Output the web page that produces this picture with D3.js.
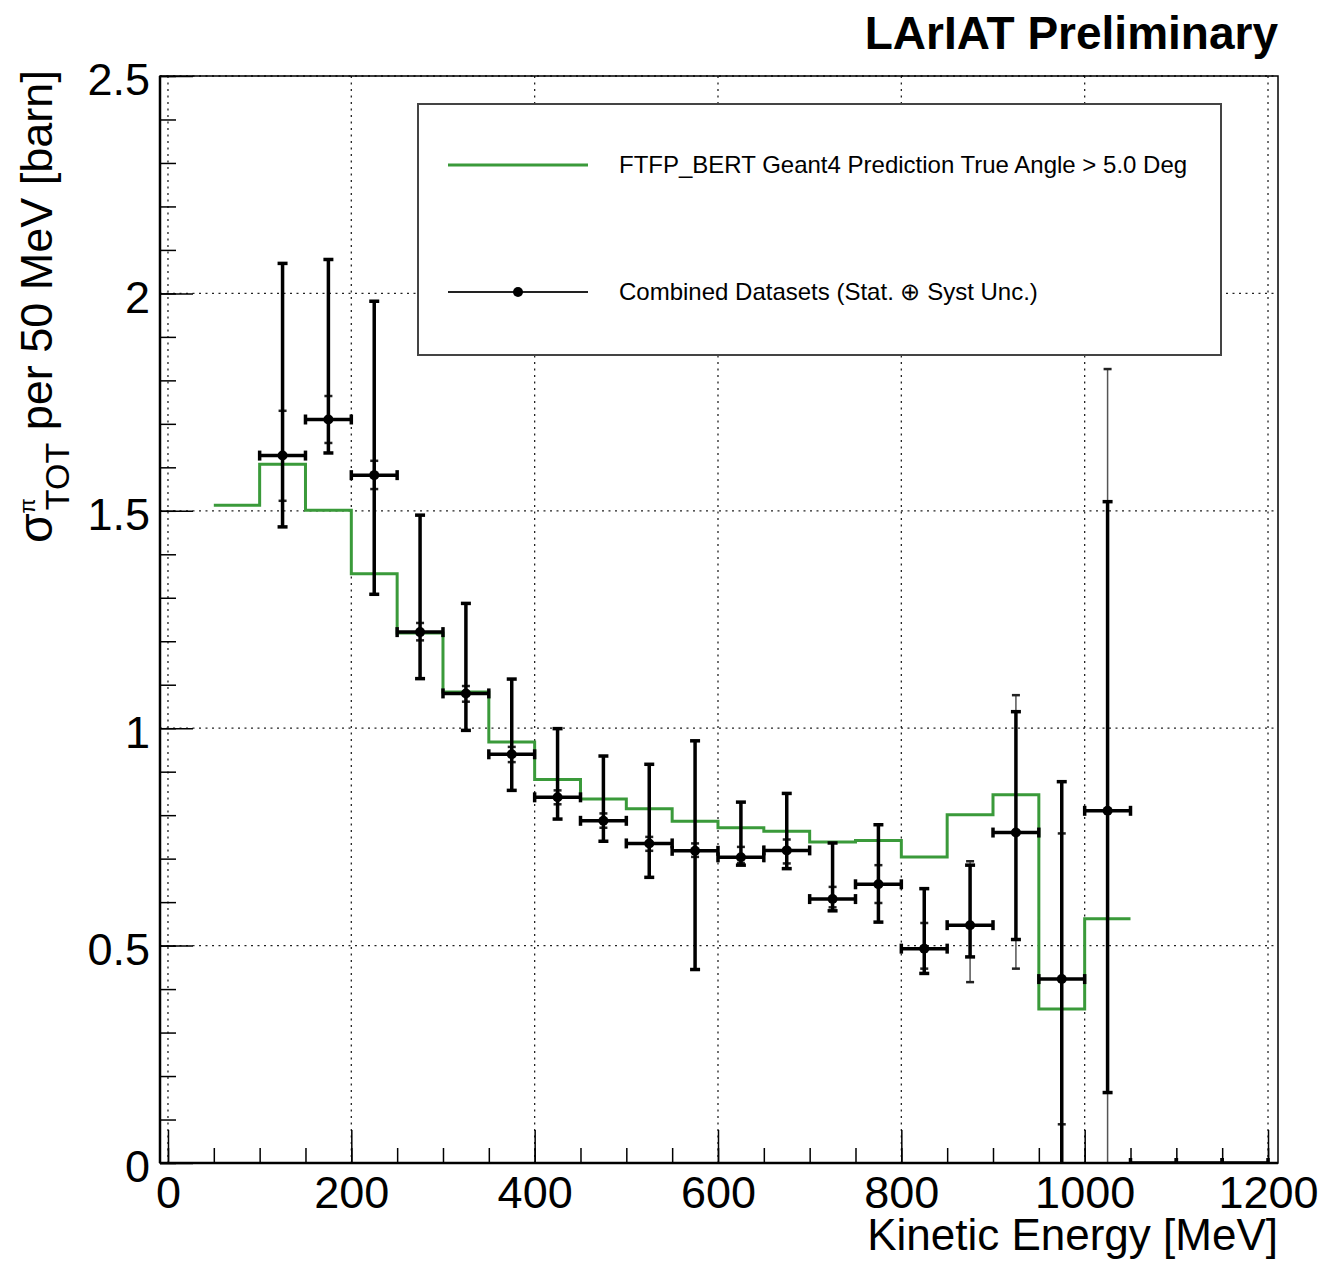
<!DOCTYPE html>
<meta charset="utf-8">
<style>
body { margin: 0; background: #fff; }
text { font-family: "Liberation Sans", Arial, Helvetica, sans-serif; fill: #000; }
.grid line { stroke: #222; stroke-width: 1.3; stroke-dasharray: 2,4.5; }
</style>
<body>
<script src="https://d3js.org/d3.v7.min.js"></script>
<script>

var width = 1321, height = 1261,
    L = 160, R = 1278, T = 76, B = 1163;

// green Geant4 prediction, 50 MeV bins from 50 to 1050
var binEdges = [50,100,150,200,250,300,350,400,450,500,550,600,650,700,750,800,850,900,950,1000,1050];
var mcValues = [1.513,1.607,1.501,1.355,1.219,1.083,0.968,0.882,0.837,0.815,0.786,0.771,0.763,0.738,0.742,0.704,0.801,0.847,0.354,0.562];

// combined data points
var binWidth = 50;
var dataX  = [125,175,225,275,325,375,425,475,525,575,625,675,725,775,825,875,925,975,1025,1075,1125,1175];
var dataY  = [1.627,1.710,1.582,1.221,1.080,0.940,0.841,0.787,0.735,0.718,0.703,0.719,0.607,0.641,0.493,0.547,0.760,0.423,0.810,0,0,0];
// thick error bars (lower / upper edge)
var totLo  = [1.463,1.633,1.308,1.114,0.995,0.857,0.791,0.740,0.657,0.445,0.685,0.677,0.580,0.554,0.436,0.474,0.514,-0.1,0.162,0,0,0];
var totHi  = [2.069,2.078,1.982,1.490,1.287,1.113,0.999,0.936,0.917,0.971,0.830,0.850,0.736,0.778,0.631,0.685,1.038,0.877,1.521,0,0,0];
// thin error bars
var altLo  = [1.523,1.656,1.550,1.202,1.061,0.922,0.825,0.771,0.718,0.704,0.690,0.689,0.588,0.598,0.447,0.416,0.447,0.089,-0.2,0,0,0];
var altHi  = [1.730,1.764,1.615,1.242,1.097,0.957,0.857,0.804,0.750,0.735,0.727,0.744,0.635,0.685,0.552,0.694,1.076,0.758,1.826,0,0,0];

var xTicks = [0,200,400,600,800,1000,1200];
var xTickLabels = ["0","200","400","600","800","1000","1200"];
var xMinor = d3.range(0, 1201, 50);
var yTicks = [0,0.5,1,1.5,2,2.5];
var yTickLabels = ["0","0.5","1","1.5","2","2.5"];
var yMinor = d3.range(0, 2.51, 0.1);

var x = d3.scaleLinear().domain([-8.7, 1210.9]).range([L, R]);
var y = d3.scaleLinear().domain([0, 2.5]).range([B, T]);

var svg = d3.select("body").append("svg")
    .attr("width", width)
    .attr("height", height);

svg.append("clipPath").attr("id", "plot")
  .append("rect").attr("x", L).attr("y", T).attr("width", R - L).attr("height", B - T);

// grid
var grid = svg.append("g").attr("class", "grid");
grid.selectAll(".gx").data(xTicks).enter().append("line")
  .attr("x1", function(d){ return x(d); }).attr("x2", function(d){ return x(d); })
  .attr("y1", T).attr("y2", B);
grid.selectAll(".gy").data(yTicks).enter().append("line")
  .attr("x1", L).attr("x2", R)
  .attr("y1", function(d){ return y(d); }).attr("y2", function(d){ return y(d); });

var plot = svg.append("g").attr("clip-path", "url(#plot)");

// MC histogram
var histPts = [];
mcValues.forEach(function(v, i){
  histPts.push([binEdges[i], v]);
  histPts.push([binEdges[i+1], v]);
});
plot.append("path")
  .datum(histPts)
  .attr("fill", "none")
  .attr("stroke", "#3a9a3a")
  .attr("stroke-width", 3)
  .attr("d", d3.line().x(function(d){ return x(d[0]); }).y(function(d){ return y(d[1]); }));

var pts = dataX.map(function(d, i){
  return {x: d, y: dataY[i], lo: totLo[i], hi: totHi[i], alo: altLo[i], ahi: altHi[i]};
});

// thin bars
var thin = plot.append("g").attr("stroke", "#555");
pts.forEach(function(p){
  if (p.ahi === p.alo) return;
  thin.append("line").attr("x1", x(p.x)).attr("x2", x(p.x))
    .attr("y1", y(p.alo)).attr("y2", y(p.ahi)).attr("stroke-width", 1.5);
  [p.alo, p.ahi].forEach(function(v){
    thin.append("line").attr("x1", x(p.x) - 4).attr("x2", x(p.x) + 4)
      .attr("y1", y(v)).attr("y2", y(v)).attr("stroke-width", 2.5).attr("stroke", "#222");
  });
});

// thick bars
var thick = plot.append("g").attr("stroke", "#000").attr("stroke-width", 3.5);
pts.forEach(function(p){
  var cx = x(p.x), cy = y(p.y);
  thick.append("line").attr("x1", x(p.x - binWidth / 2)).attr("x2", x(p.x + binWidth / 2))
    .attr("y1", cy).attr("y2", cy);
  [p.x - binWidth / 2, p.x + binWidth / 2].forEach(function(v){
    thick.append("line").attr("x1", x(v)).attr("x2", x(v))
      .attr("y1", cy - 5).attr("y2", cy + 5);
  });
  if (p.hi === p.lo) return;
  thick.append("line").attr("x1", cx).attr("x2", cx)
    .attr("y1", y(p.lo)).attr("y2", y(p.hi));
  [p.lo, p.hi].forEach(function(v){
    thick.append("line").attr("x1", cx - 5).attr("x2", cx + 5)
      .attr("y1", y(v)).attr("y2", y(v));
  });
});

plot.selectAll(".pt").data(pts.filter(function(p){ return p.y > 0; })).enter().append("circle")
  .attr("cx", function(d){ return x(d.x); })
  .attr("cy", function(d){ return y(d.y); })
  .attr("r", 5)
  .attr("fill", "#000");

// frame
svg.append("rect").attr("x", L).attr("y", T).attr("width", R - L).attr("height", B - T)
  .attr("fill", "none").attr("stroke", "#000").attr("stroke-width", 1.5);
svg.append("line").attr("x1", L).attr("x2", L).attr("y1", T).attr("y2", B)
  .attr("stroke", "#000").attr("stroke-width", 2.5);
svg.append("line").attr("x1", L).attr("x2", R).attr("y1", B).attr("y2", B)
  .attr("stroke", "#000").attr("stroke-width", 2.5);

// axes
var xAxis = svg.append("g").attr("transform", "translate(0," + B + ")")
  .call(d3.axisBottom(x).tickValues(xTicks).tickSize(-33).tickPadding(13)
    .tickFormat(function(d, i){ return xTickLabels[i]; }));
var xAxisMinor = svg.append("g").attr("transform", "translate(0," + B + ")")
  .call(d3.axisBottom(x).tickValues(xMinor).tickSize(-15).tickFormat(""));
var yAxis = svg.append("g").attr("transform", "translate(" + L + ",0)")
  .call(d3.axisLeft(y).tickValues(yTicks).tickSize(-33).tickPadding(10)
    .tickFormat(function(d, i){ return yTickLabels[i]; }));
var yAxisMinor = svg.append("g").attr("transform", "translate(" + L + ",0)")
  .call(d3.axisLeft(y).tickValues(yMinor).tickSize(-16).tickFormat(""));

[xAxis, xAxisMinor, yAxis, yAxisMinor].forEach(function(a){
  a.select(".domain").remove();
  a.selectAll(".tick line").attr("stroke", "#000").attr("stroke-width", 1.5);
  a.selectAll("text").attr("font-size", 45).attr("font-family", null);
});
yAxis.selectAll("text").attr("dy", "0.42em");

// titles
svg.append("text").attr("x", R).attr("y", 49).attr("text-anchor", "end")
  .attr("font-size", 46).attr("font-weight", "bold").text("LArIAT Preliminary");

svg.append("text").attr("x", R).attr("y", 1250).attr("text-anchor", "end")
  .attr("font-size", 44).text("Kinetic Energy [MeV]");

var yt = svg.append("text").attr("transform", "translate(52,543) rotate(-90)")
  .attr("text-anchor", "start").attr("font-size", 45);
yt.append("tspan").attr("font-size", 48).text("σ");
yt.append("tspan").attr("font-size", 22).attr("dy", -17).text("π");
yt.append("tspan").attr("font-size", 34).attr("dy", 34).attr("dx", -12).text("TOT");
yt.append("tspan").attr("dy", -17).text(" per 50 MeV [barn]");

// legend
var leg = svg.append("g");
leg.append("rect").attr("x", 418).attr("y", 104).attr("width", 803).attr("height", 251)
  .attr("fill", "#fff").attr("stroke", "#444").attr("stroke-width", 2);
leg.append("line").attr("x1", 448).attr("x2", 588).attr("y1", 165).attr("y2", 165)
  .attr("stroke", "#3a9a3a").attr("stroke-width", 3);
leg.append("line").attr("x1", 448).attr("x2", 588).attr("y1", 292).attr("y2", 292)
  .attr("stroke", "#222").attr("stroke-width", 2);
leg.append("circle").attr("cx", 518).attr("cy", 292).attr("r", 5).attr("fill", "#000");
leg.append("text").attr("x", 619).attr("y", 173).attr("font-size", 24)
  .text("FTFP_BERT Geant4 Prediction True Angle > 5.0 Deg");
leg.append("text").attr("x", 619).attr("y", 300).attr("font-size", 24)
  .text("Combined Datasets (Stat. ⊕ Syst Unc.)");

</script>
